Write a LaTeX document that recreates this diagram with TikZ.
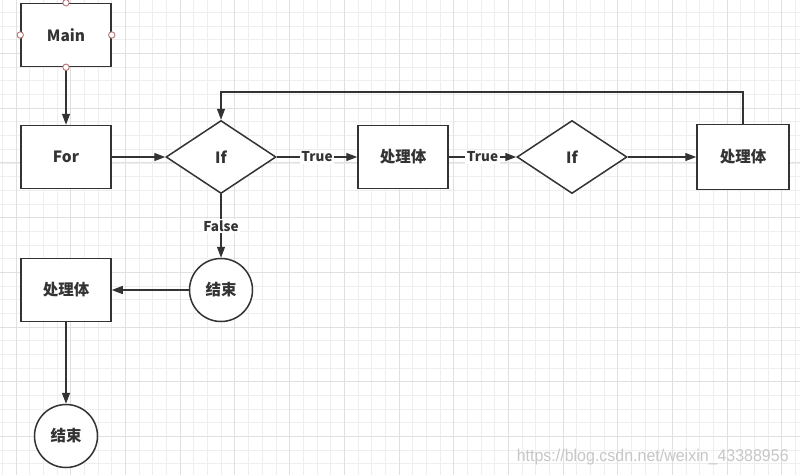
\documentclass[tikz,border=0pt]{standalone}
\usepackage{fontspec}
\setmainfont{Noto Sans CJK SC}
\newfontfamily\markfont{Liberation Sans}
\usetikzlibrary{arrows.meta,shapes.geometric,positioning}
\definecolor{ink}{HTML}{333333}
\definecolor{handle}{HTML}{B87272}
\definecolor{minorgrid}{HTML}{EEEEEE}
\definecolor{majorgrid}{HTML}{E0E0E0}

\begin{document}
\begin{tikzpicture}[x=1pt, y=-1pt,
  box/.style={draw=ink, line width=1.5pt, fill=white, minimum width=90pt, minimum height=63pt, inner sep=0pt, font=\bfseries\fontsize{15.5}{17}\selectfont, text=ink},
  cond/.style={diamond, draw=ink, line width=1.5pt, fill=white, minimum width=110pt, minimum height=73pt, inner sep=0pt, font=\bfseries\fontsize{15.5}{17}\selectfont, text=ink},
  stop/.style={circle, draw=ink, line width=1.5pt, fill=white, minimum size=63pt, inner sep=0pt, font=\bfseries\fontsize{15.5}{17}\selectfont, text=ink},
  flow/.style={draw=ink, line width=1.3pt, -{Triangle[length=11pt,width=8pt]}},
  tag/.style={fill=white, inner sep=1.5pt, font=\bfseries\fontsize{13.5}{15}\selectfont, text=ink},
  dot/.style={draw=handle, line width=0.9pt, fill=white}]
\useasboundingbox (0,0) rectangle (800,475);
\fill[white] (0,0) rectangle (800,475);
\foreach \i in {0,...,58}
  \draw[minorgrid, line width=0.8pt] ({2.4+13.675*\i},0) -- ({2.4+13.675*\i},475);
\foreach \j in {0,...,35}
  \draw[minorgrid, line width=0.8pt] (0,{-1.2+13.675*\j}) -- (800,{-1.2+13.675*\j});
\foreach \i in {0,...,14}
  \draw[majorgrid, line width=0.9pt] ({16.1+54.7*\i},0) -- ({16.1+54.7*\i},475);
\foreach \j in {0,...,9}
  \draw[majorgrid, line width=0.9pt] (0,{-1.2+54.7*\j}) -- (800,{-1.2+54.7*\j});

\node[box] (main) at (66,35) {Main};
\node[box] (for) at (66,157) {For};
\node[cond] (if1) at (221,157) {If};
\node[box] (body1) at (403,157) {处理体};
\node[cond] (if2) at (572,157) {If};
\node[box, minimum width=92pt, minimum height=65pt] (body2) at (743,157) {处理体};
\node[stop] (end1) at (221,290) {结束};
\node[box] (body3) at (66,290) {处理体};
\node[stop] (end2) at (66,436) {结束};
\coordinate (loop) at (221,92);

\draw[flow] (main) -- (for);
\draw[flow] (for) -- (if1);
\draw[flow] (if1) -- node[tag] {True} (body1);
\draw[flow] (body1) -- node[tag] {True} (if2);
\draw[flow] (if2) -- (body2);
\draw[flow] (body2.north) |- (loop) -- (if1.north);
\draw[flow] (if1) -- node[tag] {False} (end1);
\draw[flow] (end1) -- (body3);
\draw[flow] (body3) -- (end2);

\foreach \a in {north,south,east,west}
  \draw[dot] (main.\a) circle (3.2pt);

\node[anchor=east, text=black!22, font=\markfont\fontsize{17}{17}\selectfont, xscale=0.94] (mark) at (792,457) {https://blog.csdn.net/weixin\_43388956};
\end{tikzpicture}
\end{document}
